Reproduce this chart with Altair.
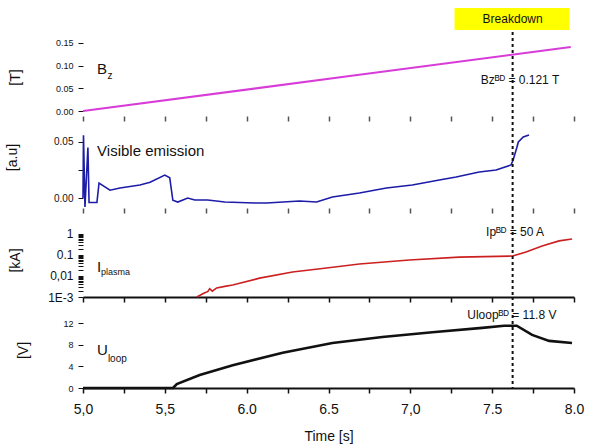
import altair as alt
import pandas as pd

FONT = "Liberation Sans"
T_BD = 7.625

# ---- data ----
b_t = [5.0, 6.63, 7.98]
b_v = [0.0, 0.077, 0.141]

vis_t = [5.000, 5.003, 5.012, 5.030, 5.037, 5.085, 5.098, 5.165, 5.226, 5.348, 5.41, 5.500,
         5.530, 5.549, 5.579, 5.640, 5.683, 5.762, 5.866, 6.049, 6.122, 6.323, 6.427, 6.524,
         6.689, 6.854, 7.012, 7.177, 7.280, 7.421, 7.524, 7.615, 7.628, 7.650, 7.660, 7.690, 7.725]
vis_v = [0.000, 0.056, -0.008, 0.045, -0.004, -0.004, 0.0134, 0.007, 0.009, 0.0116, 0.014, 0.0205,
         0.018, -0.002, -0.0036, 0.000, -0.0018, -0.0018, -0.0036, -0.0045, -0.0045, -0.0027, -0.0036, 0.0009,
         0.0045, 0.0089, 0.0116, 0.0161, 0.0188, 0.0232, 0.025, 0.0295, 0.0339, 0.0446, 0.050, 0.0545, 0.0563]

ip_t = [5.695, 5.744, 5.762, 5.774, 5.790, 5.817, 5.866, 5.915, 6.079, 6.280, 6.488, 6.689,
        6.994, 7.299, 7.625, 7.707, 7.805, 7.909, 7.988]
ip_v = [0.0010, 0.0016, 0.0018, 0.0025, 0.0019, 0.0027, 0.0032, 0.0037, 0.0079, 0.0155, 0.024, 0.037,
        0.058, 0.079, 0.089, 0.138, 0.27, 0.47, 0.58]

u_t = [5.0, 5.55, 5.573, 5.713, 5.915, 6.220, 6.524, 6.829, 7.134, 7.439, 7.573, 7.650, 7.744, 7.848, 7.988]
u_v = [0.0, 0.0, 0.74, 2.4, 4.2, 6.5, 8.3, 9.4, 10.3, 11.1, 11.5, 11.5, 9.8, 8.7, 8.3]

x_ticks = [5.0, 5.5, 6.0, 6.5, 7.0, 7.5, 8.0]
x_tick_labels = ["5,0", "5,5", "6.0", "6.5", "7,0", "7.5", "8.0"]
x_minor = [5.25, 5.75, 6.25, 6.75, 7.25, 7.75]

ip_major = [0.001, 0.01, 0.1, 1]
ip_major_labels = ["1E-3", "0,01", "0.1", "1"]

W = 491
H1, H2, H3, H4 = 78, 92, 89, 91

xscale = alt.Scale(domain=[5, 8], nice=False, zero=False)


def lab_expr(vals, labs):
    s = "''"
    for v, l in zip(reversed(vals), reversed(labs)):
        s = f"abs(datum.value - {v}) < 1e-9 ? '{l}' : ({s})"
    return s


def x_enc(show_labels=False, domain=False, tick_color="#555"):
    return alt.X(
        "t:Q", scale=xscale,
        axis=alt.Axis(
            values=sorted(x_ticks + x_minor), title="Time [s]" if show_labels else None,
            labels=show_labels, labelExpr=lab_expr(x_ticks, x_tick_labels), labelFlush=False,
            labelFontSize=14, labelColor="#111", labelFont=FONT, labelPadding=9,
            titleFontSize=14, titleFont=FONT, titleColor="#111", titlePadding=13,
            titleFontWeight="normal",
            domain=domain, domainColor="#111", domainWidth=2,
            ticks=True, tickColor=tick_color, tickSize=5, tickWidth=1.5, grid=False,
        ),
    )


def rule(h, top_ext=0):
    return alt.Chart(pd.DataFrame({"t": [T_BD]})).mark_rule(
        color="#111", strokeDash=[3, 3], strokeWidth=2
    ).encode(x=alt.X("t:Q", scale=xscale), y=alt.value(-top_ext), y2=alt.value(h))


def label(text, t, y, size, color="#111"):
    return alt.Chart(pd.DataFrame({"t": [t], "s": [text]})).mark_text(
        align="left", baseline="alphabetic", fontSize=size, font=FONT, color=color
    ).encode(x=alt.X("t:Q", scale=xscale), y=alt.value(y), text="s:N")


def ctext(text, t, y, size, weight="normal"):
    return alt.Chart(pd.DataFrame({"t": [t], "s": [text]})).mark_text(
        align="center", baseline="middle", fontSize=size, font=FONT, color="#111", fontWeight=weight
    ).encode(x=alt.X("t:Q", scale=xscale), y=alt.value(y), text="s:N")


def yaxis(title, tx, ty, vals, expr, size):
    return alt.Axis(
        title=title, titleX=tx, titleY=ty, titleAngle=-90, titleAlign="center", titleBaseline="middle",
        titleFontSize=14, titleFont=FONT, titleColor="#111", titleFontWeight="normal",
        values=vals, labelExpr=expr, labelFontSize=size, labelFont=FONT, labelColor="#111",
        domain=False, grid=False, tickColor="#111", tickSize=5, labelPadding=5,
    )


# ---- panel 1: Bz ----
p1_line = alt.Chart(pd.DataFrame({"t": b_t, "v": b_v})).mark_line(color="#d83cd8", strokeWidth=2).encode(
    x=x_enc(),
    y=alt.Y("v:Q", scale=alt.Scale(domain=[-0.011, 0.161], nice=False, zero=False),
            axis=yaxis("[T]", -68, 39, [0, 0.05, 0.1, 0.15], "format(datum.value, '.2f')", 9)),
)
box = alt.Chart(pd.DataFrame({"a": [7.27], "b": [7.97]})).mark_rect(color="#ffff00").encode(
    x=alt.X("a:Q", scale=xscale), x2="b:Q", y=alt.value(-30), y2=alt.value(-8)
)
p1 = alt.layer(
    p1_line, rule(H1, 6), box, ctext("Breakdown", T_BD, -19, 12),
    label("B", 5.086, 36, 15), label("z", 5.15, 41, 10),
    ctext("Bz\u1d2e\u1d30 = 0.121 T", 7.67, 42, 12),
).properties(width=W, height=H1)

# ---- panel 2: visible emission ----
p2_line = alt.Chart(pd.DataFrame({"t": vis_t, "v": vis_v})).mark_line(color="#1c1ca8", strokeWidth=1.6).encode(
    x=x_enc(),
    y=alt.Y("v:Q", scale=alt.Scale(domain=[-0.0089, 0.0732], nice=False, zero=False),
            axis=yaxis("[a.u]", -71, 41, [0, 0.025, 0.05],
                       "abs(datum.value - 0.025) < 1e-9 ? '' : format(datum.value, '.2f')", 10)),
)
p2 = alt.layer(p2_line, rule(H2), label("Visible emission", 5.086, 40, 15)).properties(width=W, height=H2)

# ---- panel 3: plasma current ----
ip_minor = [k * 10.0 ** e for e in (-3, -2, -1) for k in range(2, 10)]
p3_line = alt.Chart(pd.DataFrame({"t": ip_t, "v": ip_v})).mark_line(color="#cc2020", strokeWidth=1.6).encode(
    x=x_enc(domain=True, tick_color="#111"),
    y=alt.Y("v:Q", scale=alt.Scale(type="log", domain=[0.001, 17.3], nice=False),
            axis=yaxis("[kA]", -68, 52, sorted(ip_major + ip_minor), lab_expr(ip_major, ip_major_labels), 12)),
)
p3 = alt.layer(
    p3_line, rule(H3), label("I", 5.086, 64, 15), label("plasma", 5.11, 67, 9),
    ctext("Ip\u1d2e\u1d30 = 50 A", 7.64, 24, 12),
).properties(width=W, height=H3)

# ---- panel 4: loop voltage ----
p4_line = alt.Chart(pd.DataFrame({"t": u_t, "v": u_v})).mark_line(color="#111", strokeWidth=2.6).encode(
    x=x_enc(show_labels=True, domain=True, tick_color="#111"),
    y=alt.Y("v:Q", scale=alt.Scale(domain=[0, 16.8], nice=False, zero=False),
            axis=yaxis("[V]", -60, 53, [0, 4, 8, 12], "format(datum.value, 'd')", 9)),
)
p4 = alt.layer(
    p4_line, rule(H4), label("U", 5.086, 58, 15), label("loop", 5.152, 65, 10),
    ctext("Uloop\u1d2e\u1d30 = 11.8 V", 7.62, 18, 12),
).properties(width=W, height=H4)

chart = alt.vconcat(p1, p2, p3, p4, spacing=0, bounds="flush").properties(
    padding={"left": 5, "top": 8, "right": 20, "bottom": 3}
).configure_view(stroke=None)

chart.save("out.html", embed_options={"renderer": "svg", "actions": False})
